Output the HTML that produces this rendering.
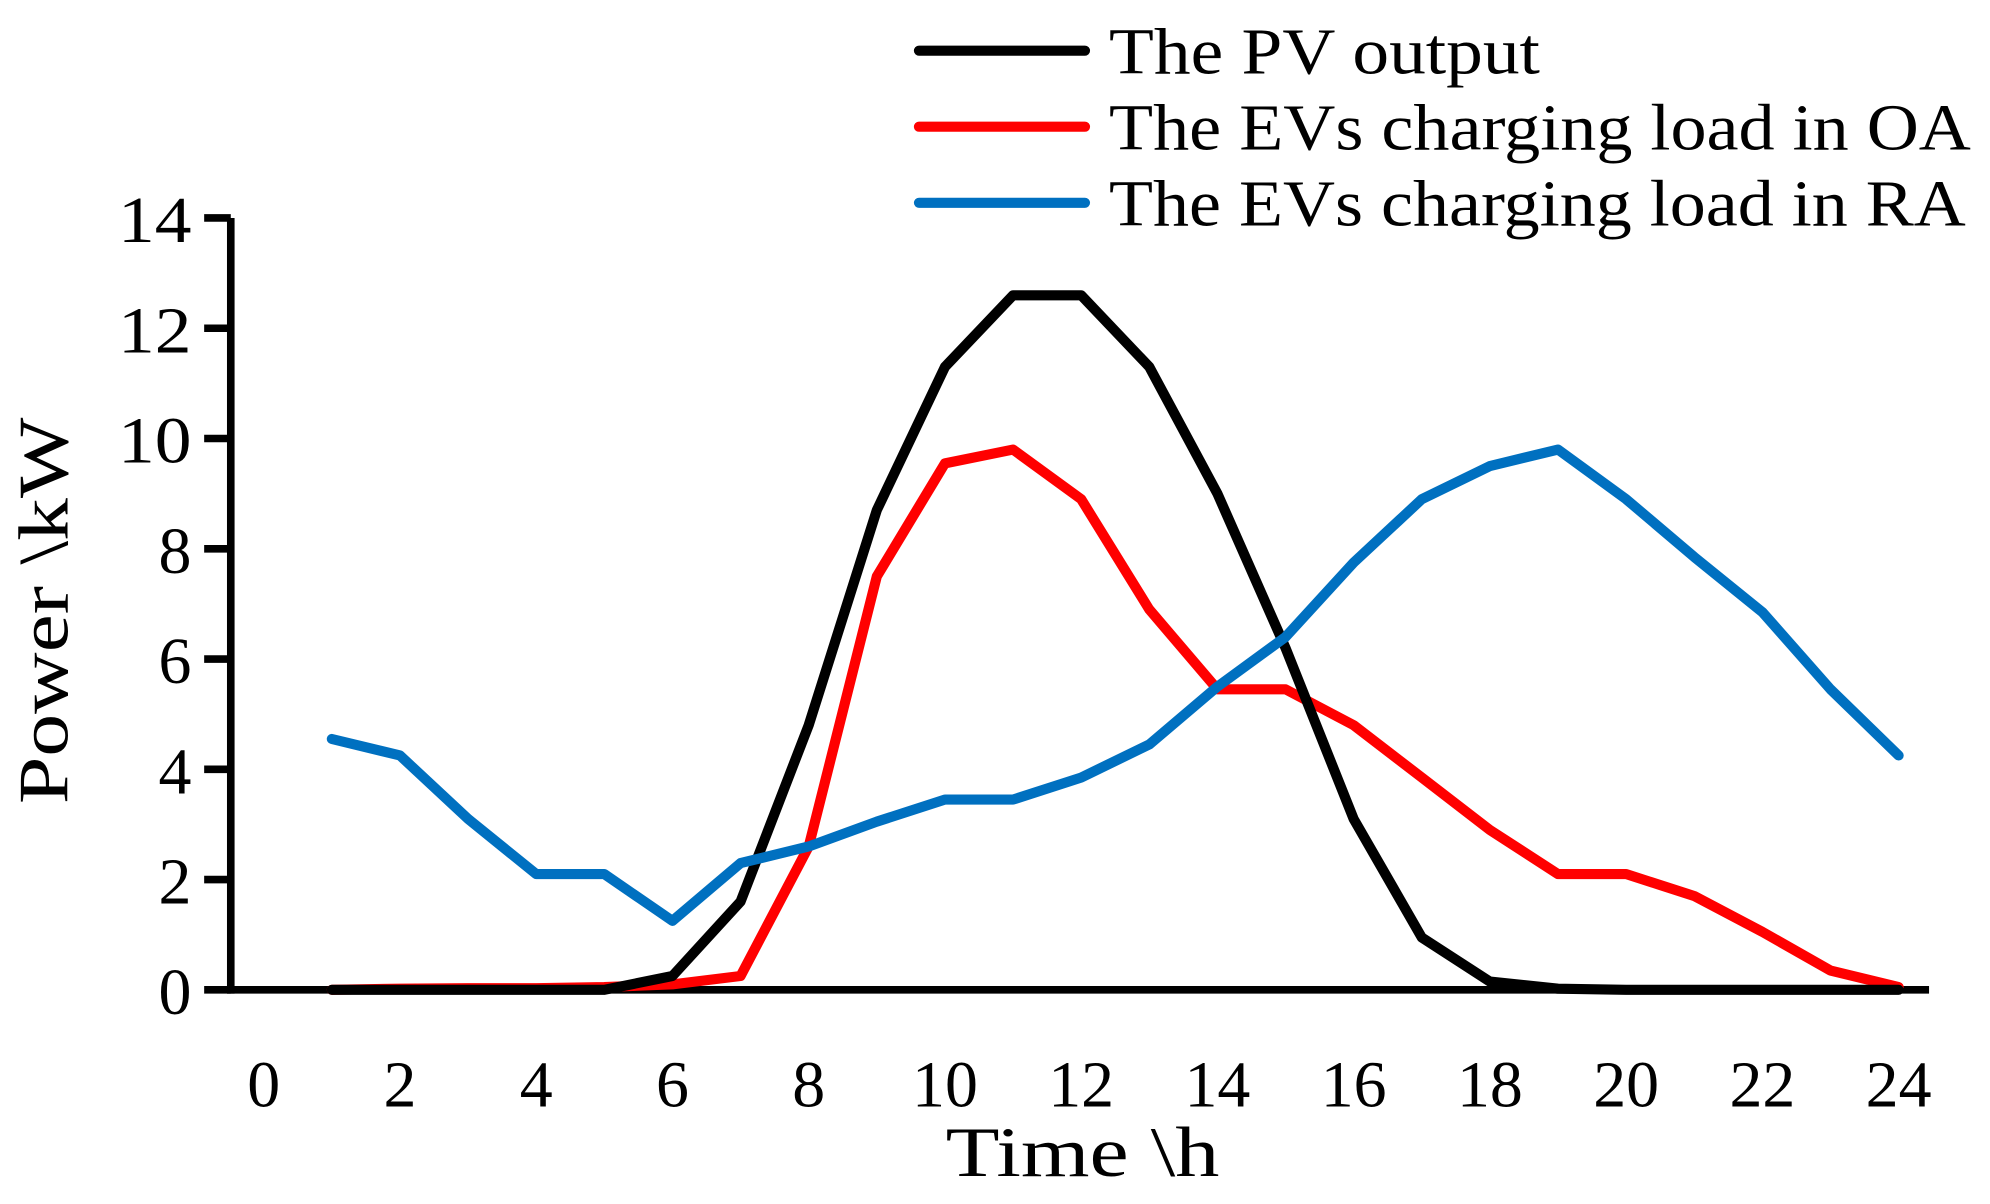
<!DOCTYPE html>
<html><head><style>html,body{margin:0;padding:0;background:#fff}svg{display:block}</style></head>
<body>
<svg width="1990" height="1204" viewBox="0 0 1568 950" xmlns="http://www.w3.org/2000/svg" font-family="Liberation Serif, serif">
<rect width="1568" height="950" fill="#fff"/>
<g stroke="#000" stroke-width="6">
<line x1="181" y1="172" x2="181" y2="784"/>
<line x1="178" y1="781" x2="1521" y2="781"/>
<line x1="160" y1="172" x2="181" y2="172"/>
<line x1="160" y1="259" x2="181" y2="259"/>
<line x1="160" y1="346" x2="181" y2="346"/>
<line x1="160" y1="433" x2="181" y2="433"/>
<line x1="160" y1="520" x2="181" y2="520"/>
<line x1="160" y1="607" x2="181" y2="607"/>
<line x1="160" y1="694" x2="181" y2="694"/>
<line x1="160" y1="781" x2="181" y2="781"/>
</g>
<g font-size="52" text-anchor="end" fill="#000">
<text x="150" y="191" textLength="58" lengthAdjust="spacingAndGlyphs">14</text><text x="150" y="278" textLength="58" lengthAdjust="spacingAndGlyphs">12</text><text x="150" y="365" textLength="58" lengthAdjust="spacingAndGlyphs">10</text>
<text x="150" y="452">8</text><text x="150" y="539">6</text><text x="150" y="626">4</text>
<text x="150" y="713">2</text><text x="150" y="800">0</text>
</g>
<g font-size="52" text-anchor="middle" fill="#000">
<text x="207" y="873">0</text><text x="314.5" y="873">2</text><text x="422" y="873">4</text>
<text x="529.5" y="873">6</text><text x="637" y="873">8</text><text x="744.5" y="873">10</text>
<text x="852" y="873">12</text><text x="959.5" y="873">14</text><text x="1067" y="873">16</text>
<text x="1174.5" y="873">18</text><text x="1282" y="873">20</text><text x="1389.5" y="873">22</text>
<text x="1497" y="873">24</text>
<text x="853" y="928" font-size="56" textLength="216" lengthAdjust="spacingAndGlyphs">Time \h</text>
<text transform="translate(52,482) rotate(-90)" font-size="56" textLength="305" lengthAdjust="spacingAndGlyphs">Power \kW</text>
</g>
<g fill="none" stroke-width="8" stroke-linejoin="round" stroke-linecap="round">
<polyline stroke="#ff0000" points="260.75,781 314.5,780.1 368.25,779.7 422,779.7 475.75,778.8 529.5,776.7 583.25,770.1 637,667.9 690.75,454.8 744.5,365.6 798.25,354.7 852,393.9 905.75,480.9 959.5,543.9 1013.25,543.9 1067,572.2 1120.75,613.5 1174.5,654.9 1228.25,689.7 1282,689.7 1335.75,707 1389.5,735.3 1443.25,765.8 1497,778.8"/>
<polyline stroke="#000" points="260.75,781 314.5,781 368.25,781 422,781 475.75,781 529.5,770.1 583.25,711.4 637,572.2 690.75,402.5 744.5,289.5 798.25,233 852,233 905.75,289.5 959.5,389.5 1013.25,511.3 1067,646.2 1120.75,739.7 1174.5,774.5 1228.25,780.1 1282,781 1335.75,781 1389.5,781 1443.25,781 1497,781"/>
<polyline stroke="#0070c0" points="260.75,583.1 314.5,596.1 368.25,646.2 422,689.7 475.75,689.7 529.5,726.6 583.25,681 637,667.9 690.75,648.3 744.5,630.9 798.25,630.9 852,613.5 905.75,587.4 959.5,541.8 1013.25,502.6 1067,443.9 1120.75,393.9 1174.5,367.7 1228.25,354.7 1282,393.9 1335.75,439.5 1389.5,483 1443.25,543.9 1497,596.1"/>
</g>
<g stroke-width="8" stroke-linecap="round">
<line x1="724" y1="40" x2="855" y2="40" stroke="#000"/>
<line x1="724" y1="100" x2="855" y2="100" stroke="#ff0000"/>
<line x1="724" y1="160" x2="855" y2="160" stroke="#0070c0"/>
</g>
<g font-size="52" fill="#000">
<text x="874" y="58" textLength="340" lengthAdjust="spacingAndGlyphs">The PV output</text>
<text x="874" y="118" textLength="680" lengthAdjust="spacingAndGlyphs">The EVs charging load in OA</text>
<text x="874" y="178" textLength="676" lengthAdjust="spacingAndGlyphs">The EVs charging load in RA</text>
</g>
</svg>
</body></html>
